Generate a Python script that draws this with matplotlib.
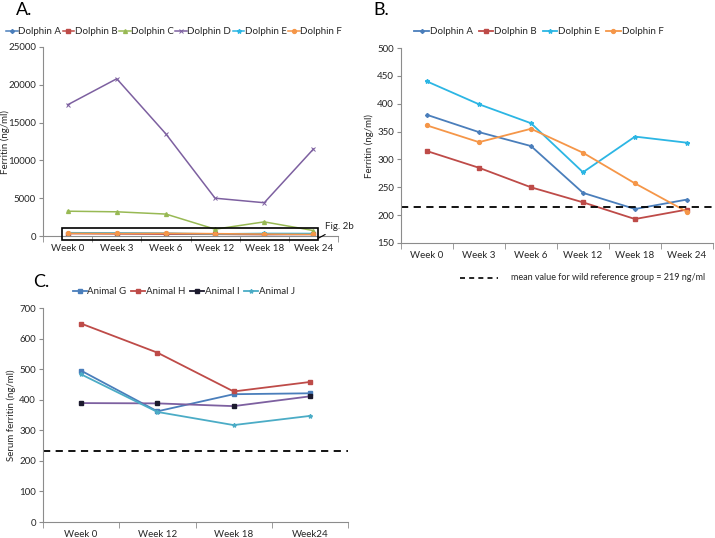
import numpy as np
import matplotlib.pyplot as plt
from matplotlib.patches import Rectangle
from matplotlib.lines import Line2D

plt.rcParams['font.family'] = ['Lato', 'DejaVu Sans']

# Daten
weeks_ab = ['Week 0', 'Week 3', 'Week 6', 'Week 12', 'Week 18', 'Week 24']
weeks_c = ['Week 0', 'Week 12', 'Week 18', 'Week24']

dolphin_a = [380, 349, 324, 240, 211, 228]
dolphin_b = [315, 285, 250, 223, 193, 210]
dolphin_c = [3280, 3200, 2900, 900, 1870, 720]
dolphin_d = [17350, 20800, 13500, 5000, 4400, 11500]
dolphin_e = [440, 399, 365, 277, 341, 330]
dolphin_f = [361, 331, 355, 312, 257, 206]

animal_g = [495, 362, 418, 421]
animal_h = [649, 554, 427, 458]
animal_i = [389, 388, 379, 411]
animal_j = [483, 360, 317, 347]

ref_line_b = 214
ref_line_c = 231

# Farben (Excel-Palette)
C_A = '#4A7EBB'
C_B = '#BE4B48'
C_C = '#98B954'
C_D = '#7D60A0'
C_E = '#2CB6E4'
C_F = '#F59648'
C_J = '#4BACC6'
SPINE = '#8C8C8C'
TXT = '#262626'
FS = 7

W, H = 715, 538
fig = plt.figure(figsize=(W / 100, H / 100), dpi=100)


def box(l, r, t, b):
    return [l / W, (H - b) / H, (r - l) / W, (b - t) / H]


def style_axes(ax, n, yticks):
    for s in ['top', 'right']:
        ax.spines[s].set_visible(False)
    for s in ['left', 'bottom']:
        ax.spines[s].set_color(SPINE)
        ax.spines[s].set_linewidth(0.8)
    ax.set_xlim(-0.5, n - 0.5)
    ax.set_xticks(range(n))
    ax.set_xticks(np.arange(-0.5, n, 1.0), minor=True)
    ax.tick_params(axis='x', which='major', length=0, labelsize=FS,
                   colors=TXT, pad=6)
    ax.tick_params(axis='x', which='minor', length=4, color=SPINE,
                   direction='out')
    ax.set_yticks(yticks)
    ax.tick_params(axis='y', length=3, color=SPINE, labelsize=FS,
                   labelcolor=TXT, pad=2)


def place_ylabel(ax, text, x_px, left_px, width_px):
    # x_px = rechte Kante des gedrehten Labels
    ax.set_ylabel(text, fontsize=FS, color=TXT)
    ax.yaxis.set_label_coords((x_px - left_px) / width_px, 0.5)


series_style = {
    'A': dict(color=C_A, marker='D', markersize=2),
    'B': dict(color=C_B, marker='s', markersize=2.6),
    'C': dict(color=C_C, marker='^', markersize=2.8),
    'D': dict(color=C_D, marker='x', markersize=2.5, markeredgewidth=0.7),
    'E': dict(color=C_E, marker='*', markersize=3.2),
    'F': dict(color=C_F, marker='o', markersize=2.8),
}

# --- Panel A ---
axA = fig.add_axes(box(43, 338, 47, 236))
x6 = np.arange(len(weeks_ab))
for key, vals in zip('ABCDEF', [dolphin_a, dolphin_b, dolphin_c,
                                dolphin_d, dolphin_e, dolphin_f]):
    axA.plot(x6, vals, lw=1.1, label='Dolphin ' + key, **series_style[key])
style_axes(axA, 6, range(0, 25001, 5000))
axA.set_xticklabels(weeks_ab)
axA.set_ylim(0, 25000)
place_ylabel(axA, 'Ferritin (ng/ml)', 10, 43, 295)
axA.add_patch(Rectangle((-0.12, -530), 5.22, 1590, fill=False,
                        edgecolor='black', lw=1.2, clip_on=False, zorder=5))
axA.annotate('Fig. 2b', xy=(5.1, -300), xytext=(5.24, 1250), fontsize=FS,
             color=TXT, annotation_clip=False, va='center',
             arrowprops=dict(arrowstyle='-', color='black', lw=0.8,
                             shrinkA=1, shrinkB=0))
axA.legend(loc='center left', bbox_to_anchor=(6 / W, 1 - 32 / H),
           bbox_transform=fig.transFigure, ncol=6, frameon=False,
           fontsize=FS, handlelength=1.2, handletextpad=0.05,
           columnspacing=0.15, borderpad=0, borderaxespad=0,
           labelcolor=TXT)
fig.text(16 / W, 1 - 10 / H, 'A.', fontsize=13, va='center', color='black')

# --- Panel B ---
axB = fig.add_axes(box(401, 713, 48, 243))
for key, vals in zip('ABEF', [dolphin_a, dolphin_b, dolphin_e, dolphin_f]):
    axB.plot(x6, vals, lw=1.3, label='Dolphin ' + key, **series_style[key])
axB.axhline(ref_line_b, color='black', lw=1.3, ls=(0, (4, 3)))
style_axes(axB, 6, range(150, 501, 50))
axB.set_xticklabels(weeks_ab)
axB.set_ylim(150, 500)
place_ylabel(axB, 'Ferritin (ng/ml)', 374, 401, 312)
axB.legend(loc='center', bbox_to_anchor=(539 / W, 1 - 32 / H),
           bbox_transform=fig.transFigure, ncol=4, frameon=False,
           fontsize=FS, handlelength=1.5, handletextpad=0.1,
           columnspacing=0.6, labelcolor=TXT)
fig.text(373 / W, 1 - 10 / H, 'B.', fontsize=13, va='center', color='black')
fig.add_artist(Line2D([460 / W, 498 / W], [1 - 278 / H, 1 - 278 / H],
                      color='black', lw=1.2, ls=(0, (3, 2.5))))
fig.text(511 / W, 1 - 278 / H, 'mean value for wild reference group = 219 ng/ml',
         fontsize=6.5, va='center', color=TXT)

# --- Panel C ---
axC = fig.add_axes(box(43, 348, 308, 522))
x4 = np.arange(len(weeks_c))
axC.plot(x4, animal_g, color=C_A, marker='s', markersize=3.2, lw=1.3,
         label='Animal G')
axC.plot(x4, animal_h, color=C_B, marker='s', markersize=3.2, lw=1.3,
         label='Animal H')
axC.plot(x4, animal_i, color=C_D, marker='s', markersize=3.2, lw=1.3,
         markerfacecolor='#1C1A2E', markeredgecolor='#1C1A2E',
         label='Animal I')
axC.plot(x4, animal_j, color=C_J, marker='*', markersize=3, lw=1.3,
         label='Animal J')
axC.axhline(ref_line_c, color='black', lw=1.3, ls=(0, (4, 3)))
style_axes(axC, 4, range(0, 701, 100))
axC.set_xticklabels(weeks_c)
axC.set_ylim(0, 700)
place_ylabel(axC, 'Serum ferritin (ng/ml)', 16, 43, 305)
handles, labels = axC.get_legend_handles_labels()
handles[2] = Line2D([], [], color='#1C1A2E', marker='s', markersize=3.2, lw=1.3)
axC.legend(handles, labels, loc='center', bbox_to_anchor=(184 / W, 1 - 292 / H),
           bbox_transform=fig.transFigure, ncol=4, frameon=False,
           fontsize=FS, handlelength=1.4, handletextpad=0.1,
           columnspacing=0.5, labelcolor=TXT)
fig.text(33 / W, 1 - 282 / H, 'C.', fontsize=13, va='center', color='black')

fig.savefig('out.png', dpi=100)
